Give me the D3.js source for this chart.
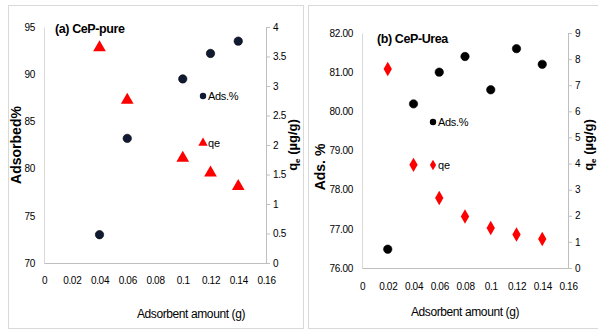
<!DOCTYPE html>
<html>
<head>
<meta charset="utf-8">
<script src="https://cdn.jsdelivr.net/npm/d3@7"></script>
<style>
  body { margin: 0; background: #fff; }
  svg { display: block; }
  .tick text { font-family: "Liberation Sans Narrow", "Arial Narrow", "Liberation Sans", sans-serif; font-size: 10px; letter-spacing: -0.3px; fill: #000; }
</style>
</head>
<body>
<svg id="chart" width="598" height="330"></svg>
<script>
// x values (adsorbent amount, g)
var xTicks = [0, 0.02, 0.04, 0.06, 0.08, 0.1, 0.12, 0.14, 0.16];

// panel (a) CeP-pure
var pureDose = [0.04, 0.06, 0.1, 0.12, 0.14];
var pureAds = [73.0, 83.2, 89.5, 92.2, 93.5];
var pureQe = [3.65, 2.76, 1.78, 1.53, 1.30];
var pureAdsTicks = [70, 75, 80, 85, 90, 95];
var pureQeTicks = [0, 0.5, 1, 1.5, 2, 2.5, 3, 3.5, 4];

// panel (b) CeP-Urea
var ureaDose = [0.02, 0.04, 0.06, 0.08, 0.1, 0.12, 0.14];
var ureaAds = [76.48, 80.19, 81.0, 81.4, 80.55, 81.6, 81.2];
var ureaQe = [7.62, 3.95, 2.68, 1.97, 1.53, 1.28, 1.11];
var ureaAdsTicks = [76, 77, 78, 79, 80, 81, 82];
var ureaQeTicks = [0, 1, 2, 3, 4, 5, 6, 7, 8, 9];

var narrow = '"Liberation Sans Narrow", "Arial Narrow", "Liberation Sans", sans-serif';
var wide = '"Liberation Sans", Arial, sans-serif';

var svg = d3.select("#chart");

function drawPanel(p) {
  var g = svg.append("g");

  g.append("rect")
    .attr("x", p.box[0] + 0.5).attr("y", p.box[1] + 0.5)
    .attr("width", p.box[2]).attr("height", p.box[3])
    .attr("fill", "#fff").attr("stroke", "#d9d9d9");

  var x = d3.scaleLinear().domain([0, 0.16]).range([p.left, p.right]);
  var yL = d3.scaleLinear().domain(d3.extent(p.adsTicks)).range([p.bottom, p.top]);
  var yR = d3.scaleLinear().domain(d3.extent(p.qeTicks)).range([p.bottom, p.top]);

  // left axis: line + labels, no ticks
  var ax = g.append("g").attr("transform", "translate(" + p.left + ",0)")
    .call(d3.axisLeft(yL).tickValues(p.adsTicks).tickSize(0).tickPadding(9)
      .tickFormat(p.adsFmt));
  ax.select(".domain").attr("stroke", "#d9d9d9");

  // right axis with small outer ticks
  var ar = g.append("g").attr("transform", "translate(" + p.right + ",0)")
    .call(d3.axisRight(yR).tickValues(p.qeTicks).tickSizeOuter(0).tickSize(4).tickPadding(3)
      .tickFormat(d3.format("")));
  ar.select(".domain").attr("stroke", "#bfbfbf");
  ar.selectAll(".tick line").attr("stroke", "#bfbfbf");

  // x axis
  var axx = g.append("g").attr("transform", "translate(0," + p.bottom + ")")
    .call(d3.axisBottom(x).tickValues(xTicks).tickSize(0).tickPadding(p.xPad)
      .tickFormat(d3.format("")));
  axx.select(".domain").attr("stroke", "#bfbfbf");

  // series: Ads.%
  g.selectAll(".ads").data(p.dose).enter().append("circle")
    .attr("cx", function (d) { return x(d); })
    .attr("cy", function (d, i) { return yL(p.ads[i]); })
    .attr("r", 4.2)
    .attr("fill", p.dotColor).attr("stroke", "#000").attr("stroke-width", 0.6);

  // series: qe
  g.selectAll(".qe").data(p.dose).enter().append("path")
    .attr("transform", function (d, i) { return "translate(" + x(d) + "," + yR(p.qe[i]) + ")"; })
    .attr("d", d3.symbol().type(p.qeSymbol).size(p.qeSize))
    .attr("fill", "#ff0000");

  // inline legend
  g.append("circle").attr("cx", p.legX).attr("cy", p.legY[0]).attr("r", 3.2).attr("fill", p.dotColor);
  g.append("path").attr("transform", "translate(" + p.legX + "," + p.legY[1] + ")")
    .attr("d", d3.symbol().type(p.qeSymbol).size(p.qeSize * 0.55)).attr("fill", "#ff0000");
  g.append("text").attr("x", p.legX + 5).attr("y", p.legY[0] + 4)
    .attr("font-family", narrow).attr("font-size", 11).attr("letter-spacing", -0.3).text("Ads.%");
  g.append("text").attr("x", p.legX + 5).attr("y", p.legY[1] + 4)
    .attr("font-family", narrow).attr("font-size", 11).text("qe");

  // titles
  g.append("text").attr("x", p.titleX).attr("y", p.titleY)
    .attr("font-family", narrow).attr("font-size", 12.5).attr("font-weight", "bold")
    .attr("letter-spacing", -0.4).text(p.title);

  g.append("text").attr("x", (p.left + p.right) / 2 + p.xtDx).attr("y", p.xtY)
    .attr("text-anchor", "middle").attr("font-family", narrow).attr("font-size", 12)
    .attr("letter-spacing", -0.4).text("Adsorbent amount (g)");

  g.append("text")
    .attr("transform", "translate(" + p.ylX + "," + p.ylY + ") rotate(-90)")
    .attr("text-anchor", "middle").attr("font-family", wide).attr("font-size", 14)
    .attr("font-weight", "bold").text(p.yLabel);

  var qt = g.append("text")
    .attr("transform", "translate(" + p.yrX + "," + p.yrY + ") rotate(-90)")
    .attr("text-anchor", "middle").attr("font-family", wide).attr("font-size", 13)
    .attr("font-weight", "bold");
  qt.append("tspan").text("q");
  qt.append("tspan").attr("font-size", 8).attr("dy", 3).text("e");
  qt.append("tspan").attr("dy", -3).text(" (\u00b5g/g)");
}

drawPanel({
  box: [8, 5, 295, 323],
  left: 44, right: 266, top: 27, bottom: 263, xPad: 14,
  dose: pureDose, ads: pureAds, qe: pureQe,
  adsTicks: pureAdsTicks, qeTicks: pureQeTicks, adsFmt: d3.format(""),
  dotColor: "#111a33", qeSymbol: d3.symbolTriangle, qeSize: 70,
  legX: 203, legY: [96, 143],
  title: "(a) CeP-pure", titleX: 55, titleY: 33,
  xtDx: 36, xtY: 318,
  yLabel: "Adsorbed%", ylX: 21, ylY: 145,
  yrX: 297, yrY: 145
});

drawPanel({
  box: [308, 5, 300, 323],
  left: 362, right: 568, top: 33, bottom: 268, xPad: 15,
  dose: ureaDose, ads: ureaAds, qe: ureaQe,
  adsTicks: ureaAdsTicks, qeTicks: ureaQeTicks, adsFmt: d3.format(".2f"),
  dotColor: "#000", qeSymbol: d3.symbolDiamond, qeSize: 60,
  legX: 433, legY: [122, 165],
  title: "(b) CeP-Urea", titleX: 377, titleY: 43,
  xtDx: 0, xtY: 316,
  yLabel: "Ads. %", ylX: 325, ylY: 167,
  yrX: 593, yrY: 145
});
</script>
</body>
</html>
